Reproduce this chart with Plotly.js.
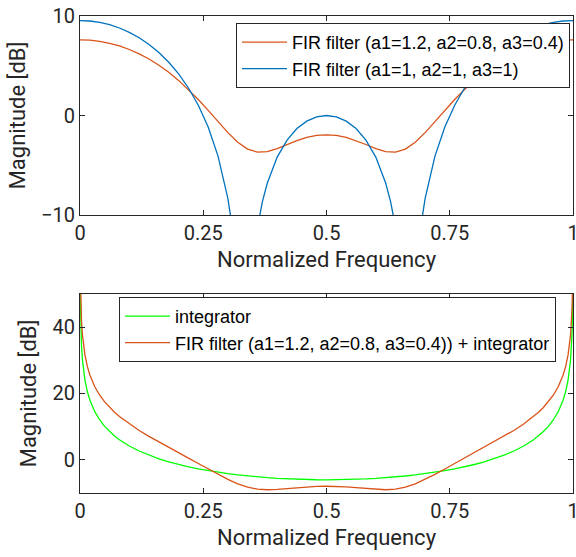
<!DOCTYPE html>
<html>
<head>
<meta charset="utf-8">
<script src="https://cdn.plot.ly/plotly-3.0.1.min.js"></script>
<style>html,body{margin:0;padding:0;background:#fff;}#chart{width:576px;height:557px;}</style>
</head>
<body>
<div id="chart"></div>
<script>
// ---- Top panel: FIR filter magnitude responses ----
const freqTop = [0,0.02,0.04,0.06,0.08,0.10,0.12,0.14,0.16,0.18,0.20,0.22,0.24,0.26,0.28,0.30,0.32,0.34,0.36,0.38,0.40,0.42,0.44,0.46,0.48,0.50,
  0.52,0.54,0.56,0.58,0.60,0.62,0.64,0.66,0.68,0.70,0.72,0.74,0.76,0.78,0.80,0.82,0.84,0.86,0.88,0.90,0.92,0.94,0.96,0.98,1.00];
const firA = [7.604,7.566,7.451,7.259,6.988,6.635,6.198,5.673,5.056,4.343,3.530,2.618,1.609,0.519,-0.616,-1.725,-2.692,-3.377,-3.682,-3.624,-3.320,-2.915,-2.521,-2.206,-2.007,-1.938,
  -2.007,-2.206,-2.521,-2.915,-3.320,-3.624,-3.682,-3.377,-2.692,-1.725,-0.616,0.519,1.609,2.618,3.530,4.343,5.056,5.673,6.198,6.635,6.988,7.259,7.451,7.566,7.604];

const freqTopB = [0,0.02,0.04,0.06,0.08,0.10,0.12,0.14,0.16,0.18,0.20,0.22,0.24,0.26,0.28,0.30,0.31,0.32,0.3333,0.34,0.36,0.37,0.38,0.40,0.42,0.44,0.46,0.48,0.50,
  0.52,0.54,0.56,0.58,0.60,0.62,0.63,0.64,0.6667,0.68,0.69,0.70,0.72,0.74,0.76,0.78,0.80,0.82,0.84,0.86,0.88,0.90,0.92,0.94,0.96,0.98,1.00];
const firB = [9.542,9.497,9.359,9.126,8.795,8.360,7.811,7.139,6.326,5.351,4.180,2.765,1.028,-1.166,-4.079,-8.360,-11.576,-16.57,-60,-22.9,-11.22,-8.657,-6.784,-4.180,-2.469,-1.315,-0.564,-0.138,0,
  -0.138,-0.564,-1.315,-2.469,-4.180,-6.784,-8.657,-11.22,-60,-16.57,-11.576,-8.360,-4.079,-1.166,1.028,2.765,4.180,5.351,6.326,7.139,7.811,8.360,8.795,9.126,9.359,9.497,9.542];

// ---- Bottom panel: integrator and FIR + integrator ----
const freqBot = [0.0005,0.001,0.002,0.003,0.005,0.01,0.015,0.02,0.03,0.04,0.05,0.06,0.07,0.08,0.10,0.12,0.14,0.16,0.18,0.20,0.22,0.24,0.26,0.28,0.30,0.32,0.34,0.36,0.38,0.40,0.42,0.44,0.46,0.48,0.50,
  0.52,0.54,0.56,0.58,0.60,0.62,0.64,0.66,0.68,0.70,0.72,0.74,0.76,0.78,0.80,0.82,0.84,0.86,0.88,0.90,0.92,0.93,0.94,0.95,0.96,0.97,0.98,0.985,0.99,0.995,0.997,0.998,0.999,0.9995];
const integ = [50.06,44.04,38.02,34.49,30.06,24.04,20.52,18.02,14.51,12.02,10.09,8.525,7.205,6.066,4.180,2.659,1.396,0.323,-0.601,-1.405,-2.109,-2.729,-3.275,-3.756,-4.180,-4.551,-4.874,-5.152,-5.388,-5.585,-5.743,-5.865,-5.952,-6.003,-6.021,
  -6.003,-5.952,-5.865,-5.743,-5.585,-5.388,-5.152,-4.874,-4.551,-4.180,-3.756,-3.275,-2.729,-2.109,-1.405,-0.601,0.323,1.396,2.659,4.180,6.066,7.205,8.525,10.09,12.02,14.51,18.02,20.52,24.04,30.06,34.49,38.02,44.04,50.06];
const firInteg = [57.66,51.64,45.62,42.09,37.66,31.63,28.10,25.59,22.03,19.47,17.46,15.78,14.34,13.05,10.82,8.857,7.069,5.379,3.742,2.125,0.509,-1.120,-2.756,-4.372,-5.905,-7.243,-8.251,-8.834,-9.012,-8.905,-8.658,-8.386,-8.158,-8.010,-7.959,
  -8.010,-8.158,-8.386,-8.658,-8.905,-9.012,-8.834,-8.251,-7.243,-5.905,-4.372,-2.756,-1.120,0.509,2.125,3.742,5.379,7.069,8.857,10.82,13.05,14.34,15.78,17.46,19.47,22.03,25.59,28.10,31.63,37.66,42.09,45.62,51.64,57.66];

const xTickVals = [0,0.25,0.5,0.75,1];
const xTickText = ['0','0.25','0.5','0.75','1'];
const yTopTicks = [-10,0,10];
const yBotTicks = [0,20,40];

const names = {
  a: 'FIR filter (a1=1.2, a2=0.8, a3=0.4)',
  b: 'FIR filter (a1=1, a2=1, a3=1)',
  integ: 'integrator',
  firInteg: 'FIR filter (a1=1.2, a2=0.8, a3=0.4)) + integrator'
};

const RED = '#D95319', BLUE = '#0072BD', GREEN = '#00FF00', AX = '#262626';
const tickFont = {family: 'Roboto, sans-serif', size: 20, color: AX};
const titleFont = {family: 'Roboto, sans-serif', size: 22, color: AX};
const legFont = {family: 'Liberation Sans, Arial, sans-serif', size: 18, color: '#000'};

const traces = [
  {x: freqTop, y: firA, type: 'scatter', mode: 'lines', name: names.a, line: {color: RED, width: 1.3}, xaxis: 'x', yaxis: 'y', legend: 'legend'},
  {x: freqTopB, y: firB, type: 'scatter', mode: 'lines', name: names.b, line: {color: BLUE, width: 1.3}, xaxis: 'x', yaxis: 'y', legend: 'legend'},
  {x: freqBot, y: integ, type: 'scatter', mode: 'lines', name: names.integ, line: {color: GREEN, width: 1.3}, xaxis: 'x2', yaxis: 'y2', legend: 'legend2'},
  {x: freqBot, y: firInteg, type: 'scatter', mode: 'lines', name: names.firInteg, line: {color: RED, width: 1.3}, xaxis: 'x2', yaxis: 'y2', legend: 'legend2'}
];

function xAxis(anchor) {
  return {
    anchor: anchor, domain: [0, 1], range: [0, 1],
    tickvals: xTickVals, ticktext: xTickText, ticklabeloverflow: 'allow',
    ticks: 'inside', ticklen: 5, tickwidth: 1, tickcolor: AX,
    showline: true, linecolor: AX, linewidth: 1, mirror: 'ticks',
    showgrid: false, zeroline: false, tickfont: tickFont,
    title: {text: 'Normalized Frequency', font: titleFont, standoff: 7}
  };
}
function yAxis(anchor, domain, range, ticks) {
  return {
    anchor: anchor, domain: domain, range: range,
    tickvals: ticks,
    ticks: 'inside', ticklen: 5, tickwidth: 1, tickcolor: AX,
    showline: true, linecolor: AX, linewidth: 1, mirror: 'ticks',
    showgrid: false, zeroline: false, tickfont: tickFont,
    title: {text: 'Magnitude [dB]', font: titleFont, standoff: 9}
  };
}

const layout = {
  width: 576, height: 557,
  margin: {l: 80, r: 3, t: 16, b: 64},
  paper_bgcolor: '#fff', plot_bgcolor: '#fff',
  xaxis: xAxis('y'),
  yaxis: yAxis('x', [0.5828, 1], [-10, 10], yTopTicks),
  xaxis2: xAxis('y2'),
  yaxis2: yAxis('x2', [0, 0.4172], [-10, 50], yBotTicks),
  showlegend: true,
  legend: {x: 0.9939, y: 0.9853, xanchor: 'right', yanchor: 'top', bgcolor: '#fff', bordercolor: AX, borderwidth: 1, font: legFont, tracegroupgap: 0, itemwidth: 45},
  legend2: {x: 0.9655, y: 0.4109, xanchor: 'right', yanchor: 'top', bgcolor: '#fff', bordercolor: AX, borderwidth: 1, font: legFont, tracegroupgap: 0, itemwidth: 45}
};

Plotly.newPlot('chart', traces, layout, {displayModeBar: false, staticPlot: true});
</script>
</body>
</html>
